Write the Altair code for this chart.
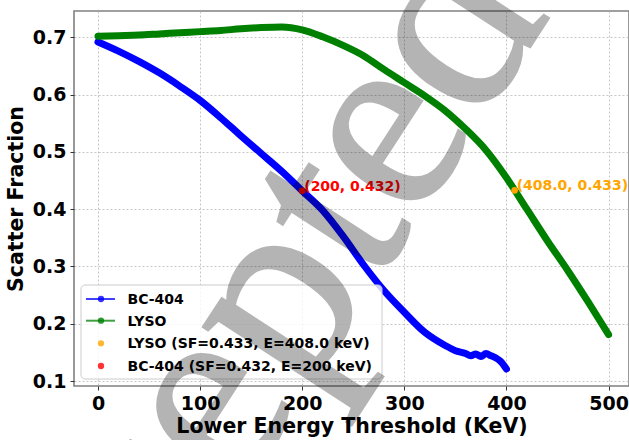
import altair as alt
import pandas as pd

# ---- data ----
bc_energy = [0, 20, 40, 60, 80, 100, 120, 140, 160, 180, 200, 220, 240, 260, 280, 300,
             320, 340, 350, 360, 365, 370, 375, 380, 385, 390, 395, 398, 400]
bc_sf = [0.692, 0.676, 0.658, 0.638, 0.615, 0.590, 0.560, 0.528, 0.497, 0.466, 0.432,
         0.398, 0.353, 0.303, 0.258, 0.220, 0.185, 0.162, 0.153, 0.148, 0.144, 0.147,
         0.143, 0.148, 0.144, 0.140, 0.133, 0.126, 0.121]

lyso_energy = [0, 20, 40, 60, 80, 100, 120, 140, 160, 180, 200, 220, 240, 260, 280, 300,
               320, 340, 360, 380, 400, 420, 440, 460, 480, 500]
lyso_sf = [0.702, 0.703, 0.704, 0.706, 0.708, 0.710, 0.712, 0.715, 0.717, 0.718, 0.713,
           0.701, 0.686, 0.668, 0.644, 0.621, 0.598, 0.572, 0.540, 0.503, 0.455, 0.400,
           0.345, 0.293, 0.238, 0.181]

series_names = ["BC-404", "LYSO"]
series_colors = ["#0000ff", "#008000"]

marker_energy = [408.0, 200]
marker_sf = [0.433, 0.432]
marker_text = ["(408.0, 0.433)", "(200, 0.432)"]
marker_colors = ["#ffa500", "#ff0000"]

legend_labels = ["BC-404", "LYSO",
                 "LYSO (SF=0.433, E=408.0 keV)", "BC-404 (SF=0.432, E=200 keV)"]
legend_colors = ["#0000ff", "#008000", "#ffa500", "#ff0000"]
legend_has_line = [True, True, False, False]

x_ticks = [0, 100, 200, 300, 400, 500]
y_ticks = [0.1, 0.2, 0.3, 0.4, 0.5, 0.6, 0.7]

watermark = "Accepted"

# ---- build tables ----
curves = pd.concat([
    pd.DataFrame({"E": bc_energy, "SF": bc_sf, "series": "BC-404"}),
    pd.DataFrame({"E": lyso_energy, "SF": lyso_sf, "series": "LYSO"}),
])
marks = pd.DataFrame({"E": marker_energy, "SF": marker_sf, "label": marker_text,
                      "col": marker_colors})

W, H = 555, 375
xs = alt.Scale(domain=[-23.5, 520], nice=False, zero=False)
ys = alt.Scale(domain=[0.0913, 0.746], nice=False, zero=False)

font = "DejaVu Sans"

xenc = alt.X("E:Q", scale=xs, title="Lower Energy Threshold (KeV)",
             axis=alt.Axis(values=x_ticks, format="d"))
yenc = alt.Y("SF:Q", scale=ys, title="Scatter Fraction",
             axis=alt.Axis(values=y_ticks, format=".1f"))

lines = alt.Chart(curves).mark_line(strokeWidth=7, strokeCap="round", strokeJoin="round",
                                     interpolate="monotone").encode(
    x=xenc, y=yenc,
    color=alt.Color("series:N", scale=alt.Scale(domain=series_names, range=series_colors),
                    legend=None),
    detail="series:N",
)

pts = alt.Chart(marks).mark_circle(size=45, opacity=1).encode(
    x=alt.X("E:Q", scale=xs), y=alt.Y("SF:Q", scale=ys),
    color=alt.Color("col:N", scale=None),
)
txt = alt.Chart(marks).mark_text(align="left", baseline="middle", dx=2, dy=-4,
                                 font=font, fontSize=14, fontWeight="bold").encode(
    x=alt.X("E:Q", scale=xs), y=alt.Y("SF:Q", scale=ys), text="label:N",
    color=alt.Color("col:N", scale=None),
)

# ---- legend (drawn manually to reproduce line+marker handles) ----
anchor = pd.DataFrame({"a": [0]})
leg_layers = [alt.Chart(anchor).mark_rect(fill="white", fillOpacity=0.8, stroke="#cccccc",
                                          strokeWidth=1, cornerRadius=4).encode(
    x=alt.value(7), x2=alt.value(308), y=alt.value(274), y2=alt.value(368))]
row_y = [288, 309.7, 332.3, 355]
for lab, col, has_line, yy in zip(legend_labels, legend_colors, legend_has_line, row_y):
    if has_line:
        leg_layers.append(alt.Chart(anchor).mark_rule(color=col, strokeWidth=2, opacity=0.75).encode(
            x=alt.value(12), x2=alt.value(41), y=alt.value(yy)))
    leg_layers.append(alt.Chart(anchor).mark_circle(color=col, size=40, opacity=0.8).encode(
        x=alt.value(27), y=alt.value(yy)))
    leg_layers.append(alt.Chart(anchor).mark_text(align="left", baseline="middle", font=font,
                                                  fontSize=14, fontWeight="bold",
                                                  color="black", text=lab).encode(
        x=alt.value(53.5), y=alt.value(yy + 1)))

wm = alt.Chart(anchor).mark_text(text=watermark, font="Liberation Serif", fontSize=265,
                                 angle=303, align="center", baseline="alphabetic",
                                 color="black", stroke="black", strokeWidth=2.5,
                                 opacity=0.29).encode(
    x=alt.value(204), y=alt.value(424))

chart = alt.layer(lines, pts, txt, *leg_layers, wm).properties(
    width=W, height=H,
    padding={"left": 74, "top": 11, "right": 0, "bottom": 54},
    autosize=alt.AutoSizeParams(type="none"),
).configure_view(
    stroke="#808080", strokeWidth=1.6
).configure_axis(
    domain=False,
    grid=True, gridColor="#b8b8b8", gridDash=[2, 2], gridWidth=0.8,
    ticks=True, tickSize=4, tickColor="#333333", tickWidth=1,
    labelFont=font, labelFontSize=19, labelFontWeight="bold", labelColor="black",
    labelPadding=4,
    titleFont=font, titleFontSize=20.5, titleFontWeight="bold", titleColor="black",
).configure_axisX(titlePadding=3, labelFlush=False, labelOverlap=False
).configure_axisY(titlePadding=6, labelOverlap=False)

chart.save("out.html", embed_options={"renderer": "svg", "actions": False})
